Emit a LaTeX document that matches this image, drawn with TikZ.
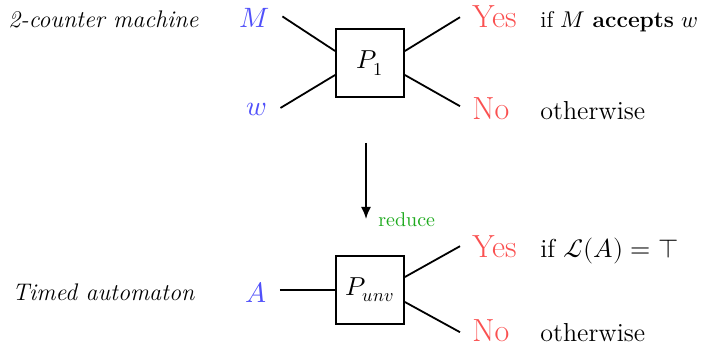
\documentclass[tikz,border=0pt]{standalone}
\usepackage{unicode-math}
\setmathfont{Latin Modern Math}
\usetikzlibrary{arrows.meta}
\definecolor{inblue}{RGB}{80,80,250}
\definecolor{outred}{RGB}{250,80,80}
\definecolor{redgreen}{RGB}{30,170,30}
\tikzset{
  procbox/.style={draw, line width=0.9pt, minimum width=34pt, minimum height=34pt, inner sep=0pt, font=\fontsize{13}{15}\selectfont},
  inlabel/.style={inner sep=0pt, anchor=base, text=inblue, font=\fontsize{14}{16}\selectfont},
  outlabel/.style={inner sep=0pt, anchor=base west, text=outred, font=\fontsize{16}{18}\selectfont},
  cond/.style={inner sep=0pt, anchor=base west, font=\fontsize{13}{15}\selectfont},
  kind/.style={inner sep=0pt, anchor=base west, font=\fontsize{12}{14}\selectfont\itshape},
  wire/.style={line width=0.9pt},
}
\begin{document}
\begin{tikzpicture}[x=0.5pt, y=-0.5pt]
\useasboundingbox (0,0) rectangle (701,347);
% top problem
\node[kind] (k1) at (8,28) {2-counter machine};
\node[procbox] (box1) at (370,63) {$P_1$};
\node[inlabel] (M) at (255,28) {$M$};
\node[inlabel] (w) at (257,116) {$w$};
\node[outlabel] (yes1) at (472,28) {Yes};
\node[outlabel] (no1) at (472,120) {No};
\node[cond, font=\fontsize{11.4}{13}\selectfont] (c1) at (540,28) {if $M$ \textbf{accepts} $w$};
\node[cond] (c2) at (540,120) {otherwise};
\draw[wire] ([shift={(6pt,1pt)}]M.east) -- ([yshift=6pt]box1.west);
\draw[wire] ([shift={(6.5pt,1pt)}]w.east) -- ([yshift=-6pt]box1.west);
\draw[wire] ([yshift=6pt]box1.east) -- ([xshift=-6pt]yes1.west);
\draw[wire] ([yshift=-6pt]box1.east) -- ([shift={(-6pt,1.5pt)}]no1.west);
% reduction arrow
\coordinate (r1) at (366,143);
\coordinate (r2) at (366,219);
\draw[wire, -{Latex[length=6pt,width=5pt]}] (r1) -- (r2);
\node[inner sep=0pt, anchor=base west, text=redgreen, font=\fontsize{10}{12}\selectfont] (red) at (378,227) {reduce};
% bottom problem
\node[kind] (k2) at (12,300) {Timed automaton};
\node[procbox] (box2) at (370,290) {$P_{unv}$};
\node[inlabel] (A) at (256,302) {$A$};
\node[outlabel] (yes2) at (472,257) {Yes};
\node[outlabel] (no2) at (472,341) {No};
\node[cond] (c3) at (540,257) {if $\mathcal{L}(A) = \top$};
\node[cond] (c4) at (540,341) {otherwise};
\draw[wire] ([xshift=6.5pt]A.east |- box2.west) -- (box2.west);
\draw[wire] ([yshift=6.5pt]box2.east) -- ([xshift=-6pt]yes2.west);
\draw[wire] ([yshift=-6pt]box2.east) -- ([shift={(-6pt,-1pt)}]no2.west);
\end{tikzpicture}
\end{document}
